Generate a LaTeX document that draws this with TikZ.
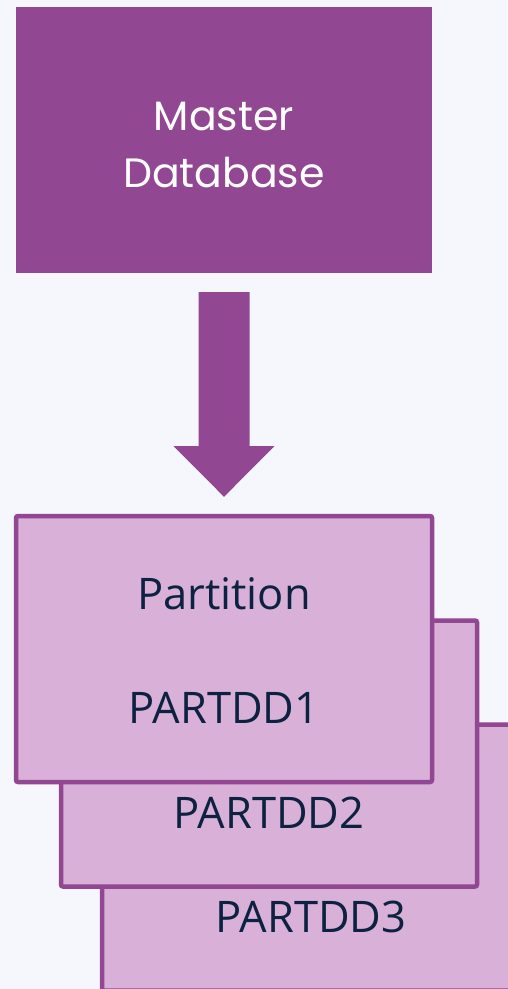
\documentclass[tikz,border=0pt]{standalone}
\usepackage{fontspec}
\setmainfont{Open Sans}
\newfontfamily\popfont{Poppins}
\usetikzlibrary{calc}
\definecolor{bgc}{HTML}{F6F7FC}
\definecolor{plum}{HTML}{914792}
\definecolor{lilac}{HTML}{D8B0D8}
\definecolor{navy}{HTML}{0D2240}
\begin{document}
\begin{tikzpicture}[x=1pt,y=-1pt,
  masterbox/.style={rectangle, fill=plum, draw=none, minimum width=416pt, minimum height=266pt, inner sep=0pt},
  partbox/.style={rectangle, fill=lilac, draw=plum, line width=4.5pt, rounded corners=2pt, minimum width=416pt, minimum height=266pt, inner sep=0pt},
  mastertext/.style={anchor=base, text=white, font=\popfont\fontsize{41}{48}\selectfont, inner sep=0pt},
  parttext/.style={anchor=base, text=navy, font=\fontsize{43.5}{50}\selectfont, inner sep=0pt}]
\fill[bgc] (0,0) rectangle (507,989);
\useasboundingbox (0,0) rectangle (507,989);
% master database
\node[masterbox] (master) at (224,140) {};
\node[mastertext] (mt1) at (224,130) {Master};
\node[mastertext] (mt2) at (224,187) {Database};
% stacked partitions
\node[partbox] (p3) at (310,857.5) {};
\node[partbox] (p2) at (269,753.5) {};
\node[partbox] (p1) at (224,649) {};
\node[parttext] (t0) at (224,609) {Partition};
\node[parttext] (t1) at (224,723) {PARTDD1};
\node[parttext] (t2) at (269,828) {PARTDD2};
\node[parttext] (t3) at (311,932) {PARTDD3};
% block arrow
\fill[plum]
  ($(master.south)+(-25.5,19)$) -- ($(master.south)+(25.5,19)$)
  -- ($(master.south)+(25.5,173)$) -- ($(master.south)+(50.5,173)$)
  -- ($(p1.north)+(0,-17)$)
  -- ($(master.south)+(-50.5,173)$) -- ($(master.south)+(-25.5,173)$) -- cycle;
\end{tikzpicture}
\end{document}
